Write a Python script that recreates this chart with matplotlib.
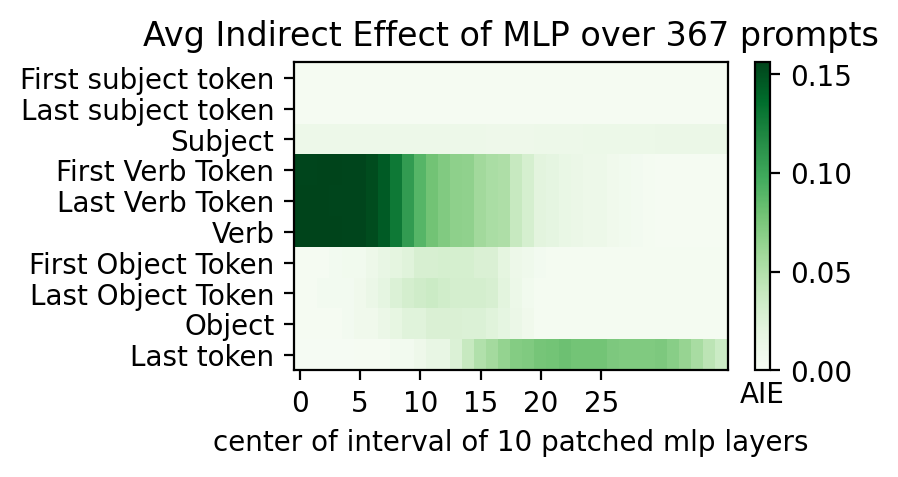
import numpy as np
import matplotlib
matplotlib.use("Agg")
import matplotlib.pyplot as plt

# row labels (top to bottom)
labels = ["First subject token", "Last subject token", "Subject",
          "First Verb Token", "Last Verb Token", "Verb",
          "First Object Token", "Last Object Token", "Object", "Last token"]

# average indirect effect per layer window (36 windows)
first_subj = [0.003] * 36
last_subj = [0.003] * 36
subject = [0.011, 0.011, 0.011, 0.011, 0.011, 0.011, 0.011, 0.011, 0.011, 0.011,
           0.011, 0.011, 0.011, 0.011, 0.011, 0.011, 0.010, 0.010, 0.010, 0.010,
           0.011, 0.011, 0.011, 0.011, 0.012, 0.012, 0.012, 0.012, 0.012, 0.012,
           0.013, 0.013, 0.013, 0.013, 0.013, 0.013]
first_verb = [0.155, 0.155, 0.156, 0.156, 0.155, 0.155, 0.152, 0.145, 0.128, 0.107,
              0.089, 0.079, 0.072, 0.067, 0.066, 0.058, 0.054, 0.052, 0.039, 0.030,
              0.021, 0.019, 0.015, 0.014, 0.011, 0.011, 0.008, 0.007, 0.005, 0.004,
              0.003, 0.003, 0.003, 0.003, 0.003, 0.003]
last_verb = [0.156, 0.156, 0.156, 0.155, 0.155, 0.155, 0.152, 0.145, 0.128, 0.107,
             0.089, 0.079, 0.072, 0.067, 0.066, 0.058, 0.054, 0.052, 0.039, 0.030,
             0.021, 0.019, 0.015, 0.014, 0.011, 0.011, 0.008, 0.007, 0.005, 0.004,
             0.003, 0.003, 0.003, 0.003, 0.003, 0.003]
verb = [0.156, 0.156, 0.156, 0.156, 0.155, 0.155, 0.152, 0.145, 0.128, 0.107,
        0.089, 0.079, 0.072, 0.067, 0.066, 0.058, 0.054, 0.052, 0.039, 0.030,
        0.021, 0.019, 0.015, 0.014, 0.011, 0.011, 0.008, 0.007, 0.005, 0.004,
        0.003, 0.003, 0.003, 0.003, 0.003, 0.003]
first_obj = [0.003, 0.003, 0.003, 0.005, 0.007, 0.007, 0.011, 0.016, 0.020, 0.023,
             0.029, 0.029, 0.030, 0.030, 0.030, 0.027, 0.027, 0.020, 0.011, 0.009,
             0.005, 0.004, 0.004, 0.004, 0.004, 0.004, 0.004, 0.004, 0.004, 0.004,
             0.004, 0.004, 0.004, 0.004, 0.004, 0.004]
last_obj = [0.003, 0.003, 0.005, 0.005, 0.005, 0.008, 0.013, 0.019, 0.026, 0.031,
            0.034, 0.036, 0.033, 0.031, 0.031, 0.031, 0.029, 0.021, 0.012, 0.007,
            0.004, 0.004, 0.004, 0.004, 0.004, 0.004, 0.004, 0.004, 0.004, 0.004,
            0.004, 0.004, 0.004, 0.004, 0.004, 0.004]
obj = [0.003, 0.003, 0.003, 0.003, 0.005, 0.008, 0.008, 0.014, 0.018, 0.023,
       0.023, 0.027, 0.027, 0.027, 0.026, 0.026, 0.023, 0.019, 0.013, 0.008,
       0.004, 0.004, 0.004, 0.004, 0.004, 0.004, 0.004, 0.004, 0.004, 0.004,
       0.004, 0.004, 0.004, 0.004, 0.004, 0.004]
last_tok = [0.002, 0.002, 0.002, 0.002, 0.002, 0.003, 0.003, 0.003, 0.006, 0.006,
            0.010, 0.016, 0.016, 0.026, 0.039, 0.050, 0.057, 0.064, 0.071, 0.073,
            0.077, 0.078, 0.081, 0.078, 0.078, 0.078, 0.074, 0.073, 0.073, 0.073,
            0.074, 0.069, 0.063, 0.055, 0.045, 0.036]

differences = np.array([first_subj, last_subj, subject, first_verb, last_verb, verb,
                        first_obj, last_obj, obj, last_tok])

fig, ax = plt.subplots(figsize=(3.5, 2), dpi=200)
h = ax.pcolor(differences, cmap="Greens", vmin=0)
ax.invert_yaxis()
ax.set_yticks([0.5 + i for i in range(len(differences))])
ax.set_xticks([0.5 + i for i in range(0, differences.shape[1] - 6, 5)])
ax.set_xticklabels(list(range(0, differences.shape[1] - 6, 5)))
ax.set_yticklabels(labels)
ax.set_title("Avg Indirect Effect of MLP over 367 prompts")
ax.set_xlabel("center of interval of 10 patched mlp layers")
cb = plt.colorbar(h)
cb.ax.set_title("AIE", y=-0.16, fontsize=10)

plt.savefig("out.png", bbox_inches="tight")
